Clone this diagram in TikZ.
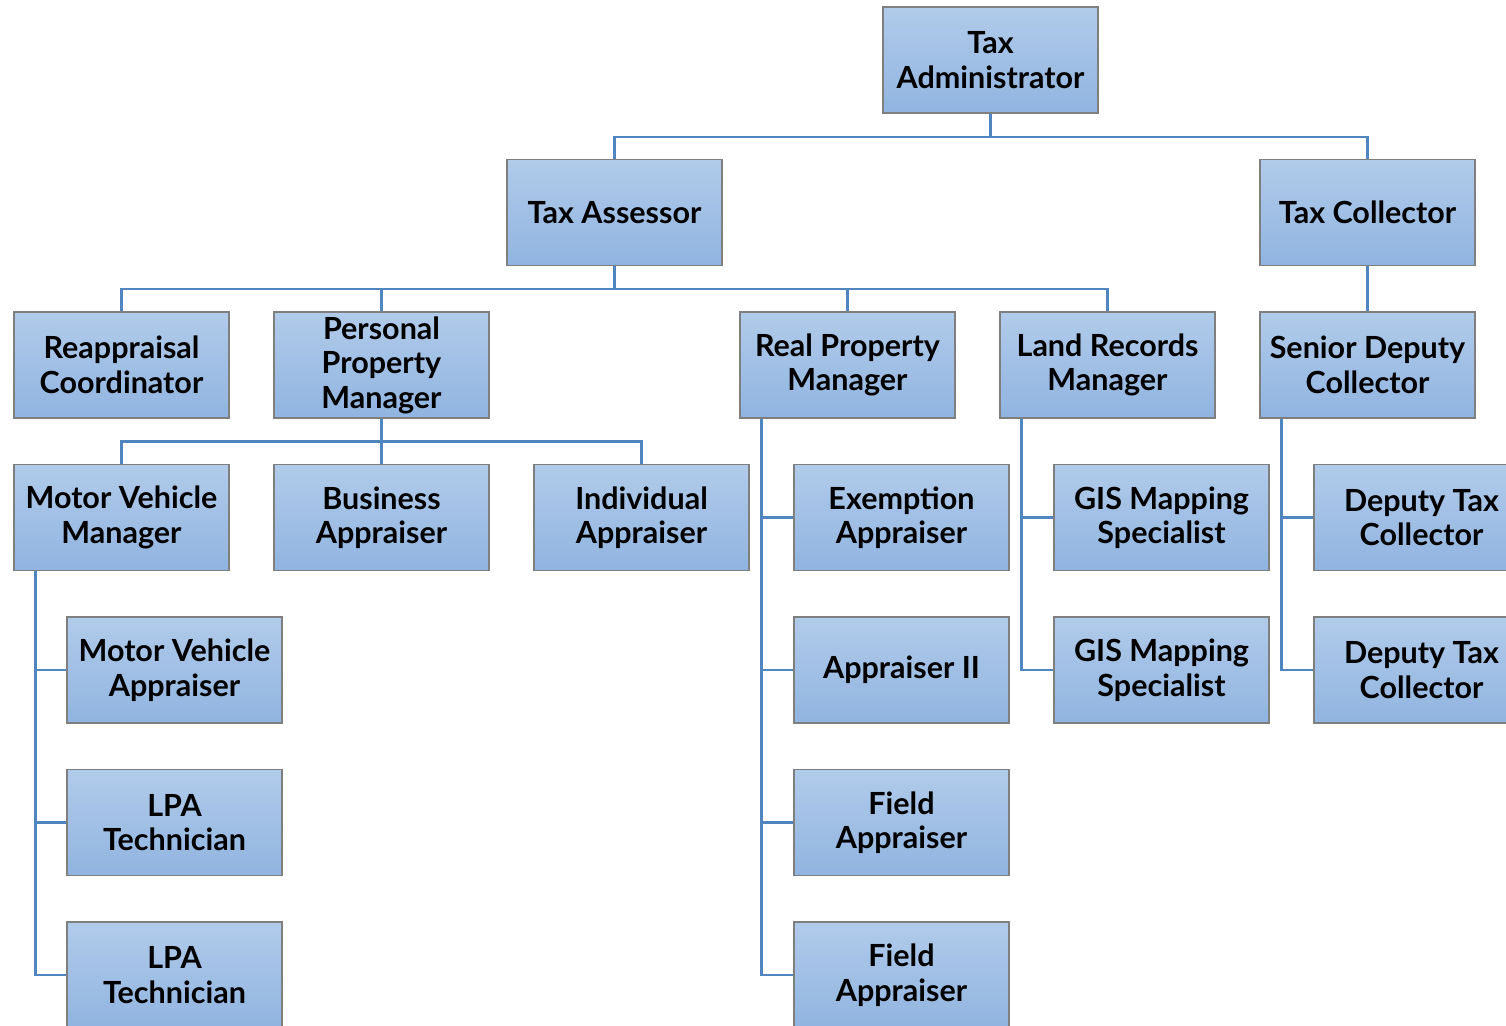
\documentclass[tikz,border=0pt]{standalone}
\usepackage{fontspec}
\setmainfont{Lato}
\definecolor{boxtop}{HTML}{B1CBEA}
\definecolor{boxbot}{HTML}{90B4E0}
\definecolor{boxline}{HTML}{7F7F7F}
\definecolor{conn}{HTML}{4F86C0}
\tikzset{
  orgbox/.style={draw=boxline, line width=1.2pt, top color=boxtop, bottom color=boxbot,
    minimum width=215pt, minimum height=106pt, inner sep=0pt, align=center,
    font=\bfseries\fontsize{30.5}{34.5}\selectfont},
  link/.style={draw=conn, line width=2.6pt}
}
\begin{document}
\begin{tikzpicture}[x=1pt,y=-1pt]
\useasboundingbox (0,0) rectangle (1506,1025);
\clip (0,0) rectangle (1506,1025);
\fill[white] (0,0) rectangle (1506,1025);
% level 1-2
\node[orgbox] (adm) at (990.5,60) {Tax\\Administrator};
\node[orgbox] (asr) at (614.5,212.5) {Tax Assessor};
\node[orgbox] (col) at (1367.5,212.5) {Tax Collector};
% level 3
\node[orgbox] (rea) at (121.5,365) {Reappraisal\\Coordinator};
\node[orgbox] (ppm) at (381.5,365) {Personal\\Property\\Manager};
\node[orgbox] (rpm) at (847.5,365) {Real Property\\Manager};
\node[orgbox] (lrm) at (1107.5,365) {Land Records\\Manager};
\node[orgbox] (sdc) at (1367.5,365) {Senior Deputy\\Collector};
% level 4
\node[orgbox] (mvm) at (121.5,517.5) {Motor Vehicle\\Manager};
\node[orgbox] (bap) at (381.5,517.5) {Business\\Appraiser};
\node[orgbox] (iap) at (641.5,517.5) {Individual\\Appraiser};
\node[orgbox] (exa) at (901.5,517.5) {Exemption\\Appraiser};
\node[orgbox] (gis1) at (1161.5,517.5) {GIS Mapping\\Specialist};
\node[orgbox] (dtc1) at (1421.5,517.5) {Deputy Tax\\Collector};
% level 5
\node[orgbox] (mva) at (174.5,670) {Motor Vehicle\\Appraiser};
\node[orgbox] (ap2) at (901.5,670) {Appraiser II};
\node[orgbox] (gis2) at (1161.5,670) {GIS Mapping\\Specialist};
\node[orgbox] (dtc2) at (1421.5,670) {Deputy Tax\\Collector};
% level 6-7
\node[orgbox] (lpa1) at (174.5,822.5) {LPA\\Technician};
\node[orgbox] (fa1) at (901.5,822.5) {Field\\Appraiser};
\node[orgbox] (lpa2) at (174.5,975) {LPA\\Technician};
\node[orgbox] (fa2) at (901.5,975) {Field\\Appraiser};
% connectors
\draw[link] (adm.south) -- ++(0,23.5) -| (asr.north);
\draw[link] (adm.south) -- ++(0,23.5) -| (col.north);
\foreach \t in {rea,ppm,rpm,lrm}
  \draw[link] (asr.south) -- ++(0,23) -| (\t.north);
\draw[link] (col.south) -- (sdc.north);
\foreach \t in {mvm,bap,iap}
  \draw[link] (ppm.south) -- ++(0,23) -| (\t.north);
\foreach \t in {mva,lpa1,lpa2}
  \draw[link] ([xshift=22pt]mvm.south west) |- (\t.west);
\foreach \t in {exa,ap2,fa1,fa2}
  \draw[link] ([xshift=22pt]rpm.south west) |- (\t.west);
\foreach \t in {gis1,gis2}
  \draw[link] ([xshift=22pt]lrm.south west) |- (\t.west);
\foreach \t in {dtc1,dtc2}
  \draw[link] ([xshift=22pt]sdc.south west) |- (\t.west);
\end{tikzpicture}
\end{document}
